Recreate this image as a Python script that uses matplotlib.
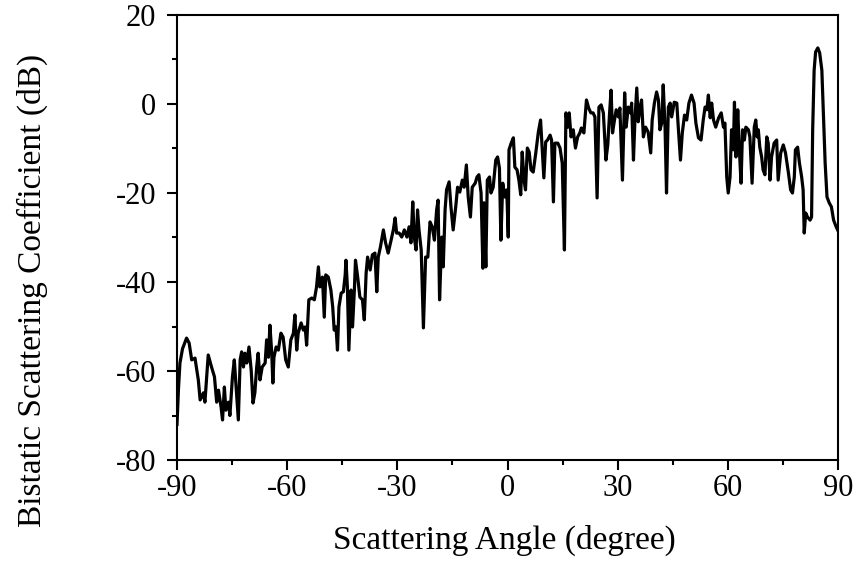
import numpy as np
import matplotlib
matplotlib.use('Agg')
import matplotlib.pyplot as plt
from matplotlib.ticker import MultipleLocator

# Values, angle in degrees, coefficient in dB
angle = [
    -90.0, -89.6, -89.2, -88.5, -87.4, -86.7, -86.0, -85.1, -84.2, -83.7, -82.8, -82.4,
    -81.5, -80.6, -79.8, -79.2, -78.7, -78.0, -77.6, -77.1, -76.7, -76.0, -75.6, -74.9,
    -74.4, -73.9, -73.3, -72.8, -72.4, -71.9, -71.5, -71.0, -70.4, -69.8, -69.3, -68.8,
    -68.3, -67.9, -67.4, -66.8, -66.0, -65.6, -65.1, -64.7, -64.2, -63.9, -63.6, -63.0,
    -62.4, -61.7, -61.1, -60.4, -59.7,
    -59.0, -58.3, -57.9, -57.4, -57.0, -56.2, -55.6, -55.1, -54.7, -54.1, -53.3, -52.6,
    -52.0, -51.5, -51.1, -50.4, -49.9, -49.5, -48.8, -48.1, -47.6, -47.2, -46.7, -46.3,
    -45.9, -45.3, -44.7, -44.2, -44.0, -43.6, -43.2, -42.6, -42.2, -41.7, -41.4, -40.8,
    -40.2, -39.5, -39.0, -38.5, -38.1, -37.4, -36.8, -36.1, -35.6, -35.2, -34.6, -33.8,
    -33.2, -32.5, -31.7, -31.1, -30.6, -30.2,
    -29.5, -28.8, -28.1, -27.4, -26.8, -26.3, -25.8, -25.4, -24.9, -24.5, -24.1, -23.5,
    -22.9, -22.3, -21.7, -21.1, -20.5, -19.9, -19.3, -18.9, -18.5, -17.9, -17.5, -17.0,
    -16.6, -15.9, -15.4, -14.8, -14.1, -13.6, -13.0, -12.3, -11.8, -11.2, -10.7, -10.1,
    -9.6, -8.8, -8.3, -7.8, -7.2, -6.7, -6.4, -5.9, -5.5, -4.9, -4.5, -3.9,
    -3.2, -2.7, -2.2, -1.8, -1.3, -0.7, -0.2, 0.2, 0.4,
    1.0, 1.6, 2.0, 2.6, 3.1, 3.6, 4.0, 4.5, 4.9, 5.4, 5.9, 6.4,
    7.0, 7.7, 8.4, 9.0, 9.5, 9.9, 10.4, 10.9, 11.6, 12.0, 12.5, 12.9,
    13.7, 14.3, 14.9, 15.5, 15.9, 16.4, 16.8, 17.3, 17.9, 18.5, 19.1, 19.7,
    20.1, 20.8, 21.5, 22.1, 22.7, 23.3, 23.8, 24.4, 24.9, 25.5, 26.1, 26.8,
    27.3, 27.8, 28.2, 28.6, 29.0, 29.6,
    30.2, 30.6, 31.3, 31.9, 32.3, 32.9, 33.5, 33.8, 34.3, 34.7, 35.2, 35.6,
    36.1, 36.5, 37.0, 37.6, 38.3, 39.0, 39.4, 40.0, 40.6, 41.1, 41.5, 42.0,
    42.4, 42.9, 43.3, 43.8, 44.3, 44.7, 45.4, 46.1, 46.5, 47.1, 47.6, 48.2,
    48.8, 49.4, 50.1, 50.8, 51.3, 52.0, 52.7, 53.3, 53.8, 54.3, 54.7, 55.2,
    55.6, 56.1, 56.7, 57.5, 58.2, 58.8, 59.2, 59.7, 60.1,
    60.6, 61.0, 61.5, 61.8, 62.2, 62.7, 63.1, 63.6, 64.0, 64.5, 64.9, 65.6,
    66.0, 66.6, 67.2, 67.6, 68.0, 68.3, 68.7, 69.2, 69.6, 70.1, 70.6, 71.0,
    71.5, 71.9, 72.6, 73.3, 73.7, 74.4, 75.1, 75.7, 76.5, 77.1, 77.6, 78.1,
    78.4, 79.0, 79.5, 80.1, 80.5, 80.8, 81.2, 81.7, 82.4, 82.8, 83.1, 83.5,
    83.9, 84.5, 85.0, 85.6, 86.0, 86.5, 87.0, 87.6, 88.2, 88.8, 89.5, 89.9,
]
sigma_db = [
    -72.0, -64.0, -58.2, -55.0, -52.6, -53.7, -57.5, -57.1, -62.0, -66.5, -64.9, -67.0,
    -56.4, -59.1, -61.3, -67.0, -64.3, -68.1, -71.0, -63.6, -68.8, -67.0, -70.0, -61.3,
    -57.5, -63.6, -71.0, -57.5, -55.7, -59.1, -56.0, -58.2, -54.6, -59.8, -67.2, -64.9,
    -59.1, -56.0, -62.0, -59.1, -58.2, -53.0, -56.9, -49.7, -56.0, -62.7, -56.9, -54.6,
    -55.3, -51.5, -52.4, -57.5, -59.1,
    -53.0, -51.5, -47.4, -55.3, -51.5, -49.2, -50.8, -50.1, -54.2, -44.0, -43.6, -44.0,
    -41.1, -36.6, -41.1, -38.9, -47.9, -38.4, -38.9, -41.8, -45.6, -50.8, -50.1, -55.3,
    -45.6, -42.5, -42.2, -38.4, -35.1, -41.1, -55.3, -41.8, -50.1, -41.8, -35.1, -38.9,
    -43.4, -44.0, -48.5, -38.0, -34.4, -37.3, -33.9, -33.5, -42.2, -34.4, -32.1, -28.3,
    -31.2, -33.5, -30.6, -28.3, -25.6, -29.0,
    -29.0, -29.9, -28.3, -29.9, -27.6, -31.2, -22.0, -29.9, -32.8, -23.8, -28.3, -32.8,
    -50.3, -34.4, -34.4, -26.5, -27.6, -30.6, -23.8, -21.6, -44.0, -29.9, -36.6, -23.8,
    -19.3, -17.5, -23.1, -28.3, -23.1, -18.7, -19.8, -17.1, -18.7, -13.7, -20.9, -25.4,
    -18.7, -17.8, -16.4, -15.9, -20.0, -36.9, -22.2, -36.6, -17.1, -16.4, -20.0, -18.7,
    -12.6, -11.9, -14.4, -30.6, -17.8, -20.9, -19.3, -29.9, -10.3,
    -8.8, -7.6, -14.2, -14.8, -17.1, -20.4, -10.8, -17.1, -19.3, -9.9, -10.8, -14.8,
    -15.3, -11.0, -6.3, -3.6, -11.0, -16.6, -8.5, -8.1, -7.0, -8.1, -22.0, -8.8,
    -8.8, -9.9, -13.3, -32.8, -2.0, -5.2, -2.0, -7.4, -5.8, -9.9, -7.4, -6.5,
    -5.4, -6.5, 0.9, -0.9, -2.0, -2.0, -2.9, -21.1, -0.7, -0.2, -2.0, -12.6,
    -9.2, -2.0, 3.1, -6.5, -4.3, -1.3,
    -2.9, -0.9, -17.1, 2.5, -5.2, -0.7, -2.0, 0.2, -12.6, -3.6, 3.6, -4.0,
    -0.7, 0.9, -7.4, -5.2, -6.3, -11.0, -3.6, 0.2, 2.7, 0.9, -5.8, -4.3,
    4.3, -5.2, -20.0, -0.7, 0.2, -2.9, 0.4, 0.2, -5.2, -12.6, -6.5, -2.5,
    -3.6, 0.2, 2.0, 0.2, -4.3, -7.6, -8.1, -3.6, -0.7, -1.3, 2.0, -3.1,
    0.2, -3.6, -5.2, -3.1, -2.0, -5.2, -4.3, -16.4, -20.0,
    -16.4, -5.8, -10.3, 0.4, -11.9, -1.3, -9.7, -17.8, -5.8, -8.1, -5.2, -5.8,
    -7.4, -17.8, -5.2, -3.6, -7.4, -5.8, -9.7, -11.9, -14.8, -15.9, -7.4, -8.8,
    -17.1, -11.9, -8.8, -8.1, -17.1, -11.0, -9.2, -11.0, -15.5, -19.3, -20.0, -16.4,
    -10.3, -9.7, -13.3, -16.4, -19.3, -29.0, -24.5, -25.4, -26.1, -25.4, -5.8, 7.6,
    11.7, 12.6, 11.5, 7.6, -2.0, -13.3, -20.9, -22.2, -23.1, -26.1, -27.6, -28.3,
]

xticks = [-90, -60, -30, 0, 30, 60, 90]
yticks = [-80, -60, -40, -20, 0, 20]

plt.rcParams['font.family'] = ['Liberation Serif', 'DejaVu Serif']
plt.rcParams['axes.unicode_minus'] = False

fig = plt.figure(figsize=(8.58, 5.61), dpi=100)
ax = fig.add_axes([0.2063, 0.18, 0.7704, 0.7933])

ax.plot(angle, sigma_db, color='black', linewidth=2.3, solid_joinstyle='round')

ax.set_xlim(-90, 90)
ax.set_ylim(-80, 20)
ax.set_xticks(xticks)
ax.set_yticks(yticks)
ax.xaxis.set_minor_locator(MultipleLocator(15))
ax.yaxis.set_minor_locator(MultipleLocator(10))
ax.tick_params(which='both', direction='out', width=1.5, top=False, right=False,
               labelsize=22)
ax.tick_params(which='major', length=7)
ax.tick_params(which='minor', length=3.5)
ax.tick_params(axis='x', pad=3)
ax.tick_params(axis='y', pad=8)
for s in ax.spines.values():
    s.set_linewidth(1.5)

ax.set_xlabel('Scattering Angle (degree)', fontsize=24)
ax.set_ylabel('Bistatic Scattering Coefficient (dB)', fontsize=24)
ax.xaxis.set_label_coords(0.495, -0.145)
ax.yaxis.set_label_coords(-0.195, 0.38)

fig.savefig('out.png', dpi=100)
